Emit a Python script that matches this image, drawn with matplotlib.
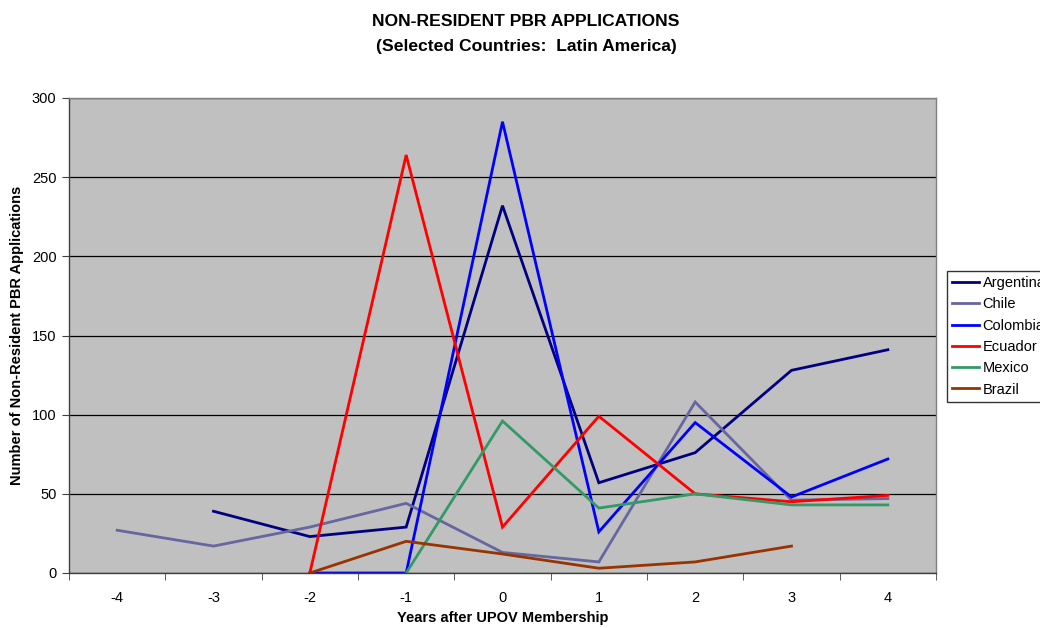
import matplotlib
matplotlib.use("Agg")
import matplotlib.pyplot as plt
import numpy as np

plt.rcParams['font.family'] = ['Liberation Sans', 'DejaVu Sans']

years = [-4, -3, -2, -1, 0, 1, 2, 3, 4]

argentina_x = [-3, -2, -1, 0, 1, 2, 3, 4]
argentina = [39, 23, 29, 232, 57, 76, 128, 141]
chile_x = [-4, -3, -2, -1, 0, 1, 2, 3, 4]
chile = [27, 17, 29, 44, 13, 7, 108, 46, 47]
colombia_x = [-2, -1, 0, 1, 2, 3, 4]
colombia = [0, 0, 285, 26, 95, 48, 72]
ecuador_x = [-2, -1, 0, 1, 2, 3, 4]
ecuador = [0, 264, 29, 99, 50, 45, 49]
mexico_x = [-1, 0, 1, 2, 3, 4]
mexico = [0, 96, 41, 50, 43, 43]
brazil_x = [-2, -1, 0, 1, 2, 3]
brazil = [0, 20, 12, 3, 7, 17]

series = [
    ("Argentina", argentina_x, argentina, "#000080"),
    ("Chile", chile_x, chile, "#6666A0"),
    ("Colombia", colombia_x, colombia, "#0000FF"),
    ("Ecuador", ecuador_x, ecuador, "#FF0000"),
    ("Mexico", mexico_x, mexico, "#339966"),
    ("Brazil", brazil_x, brazil, "#993300"),
]

fig = plt.figure(figsize=(10.4, 6.28), dpi=100)
W, H = 1040, 628
ax = fig.add_axes([69 / W, 1 - 573 / H, (936 - 69) / W, (573 - 98) / H])
ax.set_facecolor("#C0C0C0")

for name, xs, ys, c in series:
    ax.plot(xs, ys, color=c, lw=2.0, label=name, solid_joinstyle='miter')

ax.set_xlim(-4.5, 4.5)
ax.set_ylim(0, 300)
ax.set_yticks(np.arange(0, 301, 50))
ax.yaxis.grid(True, color="black", lw=0.9)
ax.set_axisbelow(True)

ax.set_xticks(years)
ax.set_xticklabels([str(y) for y in years])
ax.set_xticks(np.arange(-4.5, 4.6, 1), minor=True)
ax.tick_params(axis='x', which='major', length=0, pad=13, labelsize=10.5)
ax.tick_params(axis='x', which='minor', length=5, color='#404040')
ax.tick_params(axis='y', length=5, pad=4, labelsize=10.5, color='#404040')

for s in ['left', 'bottom']:
    ax.spines[s].set_color('#404040')
    ax.spines[s].set_linewidth(1.0)
for s in ['top', 'right']:
    ax.spines[s].set_color('#808080')
    ax.spines[s].set_linewidth(1.0)

ax.set_xlabel("Years after UPOV Membership", fontsize=10.5, fontweight='bold')
ax.set_ylabel("Number of Non-Resident PBR Applications", fontsize=10.5, fontweight='bold')
ax.xaxis.set_label_coords(0.5, (573 - 611) / 475)
ax.yaxis.set_label_coords((24 - 69) / 867, 0.5)

fig.text(526 / W, 1 - 22 / H, "NON-RESIDENT PBR APPLICATIONS", ha='center', va='center',
         fontsize=12.6, fontweight='bold')
fig.text(526 / W, 1 - 46 / H, "(Selected Countries:  Latin America)", ha='center', va='center',
         fontsize=12.6, fontweight='bold')

leg = ax.legend(loc='upper left', bbox_to_anchor=(947 / W, 1 - 271 / H),
                bbox_transform=fig.transFigure, frameon=True, fancybox=False,
                edgecolor='black', fontsize=10.5, handlelength=1.85, handletextpad=0.25,
                labelspacing=0.5, borderpad=0.35, borderaxespad=0)
leg.get_frame().set_linewidth(1.0)

fig.savefig("out.png", dpi=100)
